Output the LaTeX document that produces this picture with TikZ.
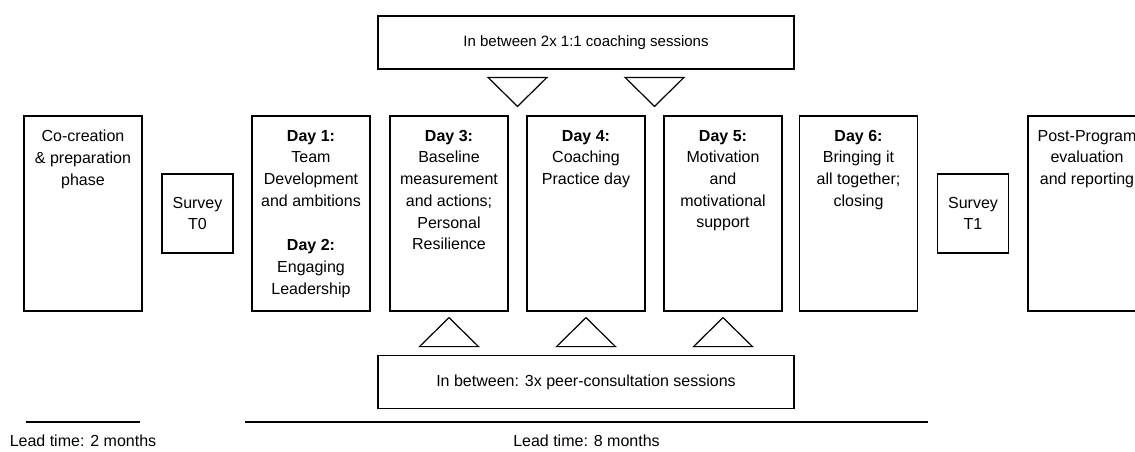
\documentclass[tikz,border=0pt]{standalone}
\usepackage{fontspec}
\setmainfont{Liberation Sans}
\usetikzlibrary{positioning,calc}

\begin{document}
\begin{tikzpicture}[x=1pt,y=-1pt,
  every node/.style={font=\fontsize{16}{21.7}\selectfont},
  phasebox/.style={draw, line width=1.2pt, minimum width=118pt, minimum height=195pt, inner sep=0pt},
  phasetext/.style={anchor=north, align=center, inner sep=0pt},
  surveybox/.style={draw, line width=1.2pt, minimum width=71pt, minimum height=79pt, inner sep=0pt, align=center},
  banner/.style={draw, line width=1.2pt, minimum width=416pt, minimum height=53pt, inner sep=0pt},
  tri/.style={line width=1.2pt},
  leadline/.style={line width=1.4pt}]
  \useasboundingbox (0,0) rectangle (1135,451);
  \clip (0,0) rectangle (1135,451);

  \foreach \n/\x/\t in {
    cocreate/83/{Co-creation\\\& preparation\\phase},
    day12/311/{\textbf{Day 1:}\\Team\\Development\\and ambitions\\[23pt]\textbf{Day 2:}\\Engaging\\Leadership},
    day3/449/{\textbf{Day 3:}\\Baseline\\measurement\\and actions;\\Personal\\Resilience},
    day4/586/{\textbf{Day 4:}\\Coaching\\Practice day},
    day5/723/{\textbf{Day 5:}\\Motivation\\and\\motivational\\support},
    day6/858.5/{\textbf{Day 6:}\\Bringing it\\all together;\\closing},
    post/1087/{Post-Program\\evaluation\\and reporting}%
  }{
    \node[phasebox] (\n) at (\x,213.5) {};
    \node[phasetext] (\n-txt) at ([yshift=-14.5pt]\n.north) {\t};
  }

  \node[surveybox] (t0) at (197.5,213.5) {Survey\\T0};
  \node[surveybox] (t1) at (973,213.5) {Survey\\T1};

  \node[banner, font=\fontsize{15}{20}\selectfont] (coach) at (586,42.5) {In between 2x 1:1 coaching sessions};
  \node[banner] (peer) at (586,382) {In between: 3x peer-consultation sessions};

  % coaching sessions between the days
  \foreach \a/\b in {day3/day4, day4/day5}{
    \coordinate (tip) at ($(\a.north east)!.5!(\b.north west) + (0,-9)$);
    \draw[tri] (tip) -- ++(-29.5,-29) -- ++(59,0) -- cycle;
  }
  % peer-consultation after the days
  \foreach \a in {day3, day4, day5}{
    \coordinate (tip) at ($(\a.south) + (0,6)$);
    \draw[tri] (tip) -- ++(-29.5,29) -- ++(59,0) -- cycle;
  }

  \coordinate (lead2a) at (26,422);
  \coordinate (lead2b) at (140,422);
  \coordinate (lead8a) at (245,422);
  \coordinate (lead8b) at (928,422);
  \draw[leadline] (lead2a) -- (lead2b);
  \draw[leadline] (lead8a) -- (lead8b);
  \node (lead2) at ($(lead2a)!.5!(lead2b) + (0,19)$) {Lead time: 2 months};
  \node (lead8) at ($(lead8a)!.5!(lead8b) + (0,19)$) {Lead time: 8 months};
\end{tikzpicture}
\end{document}
